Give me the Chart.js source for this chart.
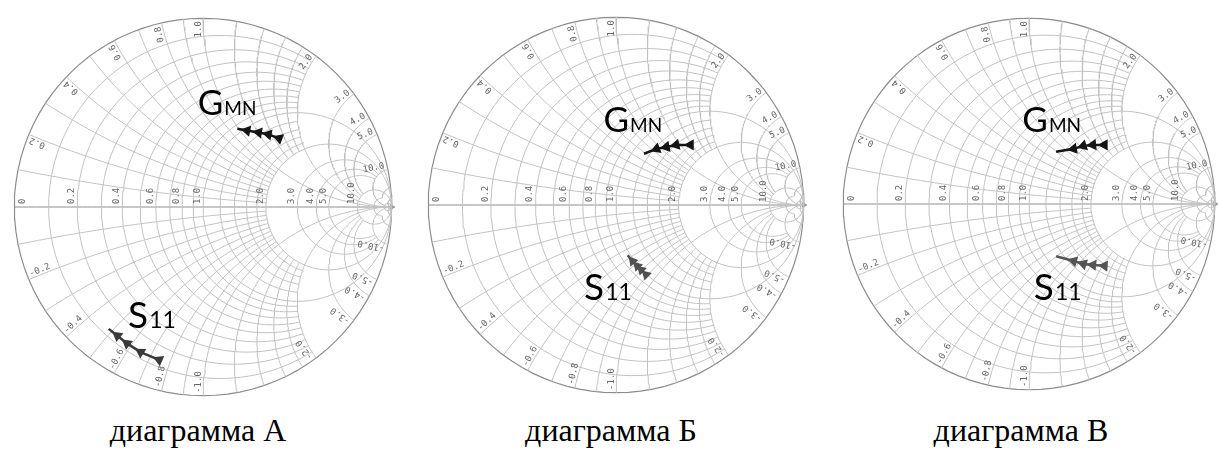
<!DOCTYPE html>
<html lang="ru">
<head>
<meta charset="UTF-8">
<title>Диаграммы Смита</title>
<script src="https://cdn.jsdelivr.net/npm/chart.js"></script>
<style>
  html, body { margin: 0; padding: 0; background: #fff; overflow: hidden; }
  body { width: 1219px; height: 452px; position: relative; }
  .chartBox { position: absolute; width: 400px; height: 400px; }
  .caption {
    position: absolute; top: 414px; width: 300px; margin-left: -150px;
    text-align: center; color: #000;
    font-family: "Liberation Serif", "Times New Roman", serif;
    font-size: 32px; line-height: 32px;
  }
</style>
</head>
<body>
<div class="chartBox" style="left:2.5px;top:7px"><canvas id="chartA" width="400" height="400"></canvas></div>
<div class="chartBox" style="left:416px;top:5px"><canvas id="chartB" width="400" height="400"></canvas></div>
<div class="chartBox" style="left:829px;top:4px"><canvas id="chartC" width="400" height="400"></canvas></div>
<div class="caption" style="left:198px">диаграмма А</div>
<div class="caption" style="left:611px">диаграмма Б</div>
<div class="caption" style="left:1021px">диаграмма В</div>

<script>
// Smith chart grid: resistance circles and reactance arcs, each with the reach it is drawn to
var resistanceValues = [0.1, 0.2, 0.3, 0.4, 0.5, 0.6, 0.7, 0.8, 0.9, 1.0, 1.2, 1.4, 1.6, 1.8, 2.0, 3.0, 4.0, 5.0, 10.0, 20.0, 50.0];
var resistanceReach  = [2, 2, 2, 2, 2, 2, 2, 2, 2, Infinity, 2, 2, 2, 2, Infinity, 10, 10, 10, Infinity, 20, Infinity];
var reactanceValues  = [0.1, 0.2, 0.3, 0.4, 0.5, 0.6, 0.7, 0.8, 0.9, 1.0, 1.2, 1.4, 1.6, 1.8, 2.0, 3.0, 4.0, 5.0, 10.0, 20.0, 50.0];
var reactanceReach   = [2, 2, 2, 2, 2, 2, 2, 2, 2, Infinity, 2, 2, 2, 2, Infinity, 10, 10, 10, Infinity, 20, Infinity];

// tick labels
var axisTicks = [0, 0.2, 0.4, 0.6, 0.8, 1.0, 2.0, 3.0, 4.0, 5.0, 10.0];
var rimTicks  = [0.2, 0.4, 0.6, 0.8, 1.0, 2.0, 3.0, 4.0, 5.0, 10.0,
                 -0.2, -0.4, -0.6, -0.8, -1.0, -2.0, -3.0, -4.0, -5.0, -10.0];

// traces, reflection coefficient (re, im)
var gmnA_re = [0.182, 0.233, 0.295, 0.346, 0.403];
var gmnA_im = [0.415, 0.405, 0.395, 0.385, 0.364];
var s11A_re = [-0.500, -0.454, -0.403, -0.331, -0.233];
var s11A_im = [-0.646, -0.682, -0.723, -0.769, -0.810];

var gmnB_re = [0.149, 0.216, 0.268, 0.320, 0.397];
var gmnB_im = [0.273, 0.299, 0.309, 0.320, 0.320];
var s11B_re = [0.062, 0.088, 0.113, 0.134, 0.160];
var s11B_im = [-0.268, -0.299, -0.325, -0.345, -0.371];

var gmnC_re = [0.146, 0.240, 0.292, 0.344, 0.406];
var gmnC_im = [0.281, 0.297, 0.313, 0.318, 0.318];
var s11C_re = [0.146, 0.240, 0.292, 0.344, 0.406];
var s11C_im = [-0.281, -0.307, -0.323, -0.328, -0.333];

function gamma(r, x) {
    var d = (r + 1) * (r + 1) + x * x;
    return [(r * r + x * x - 1) / d, 2 * x / d];
}

function resistanceArc(r, xMax) {
    var pts = [], k = r + 1, U = Math.atan(xMax / k), n = 96;
    for (var i = 0; i <= n; i++) {
        var g = gamma(r, k * Math.tan(-U + 2 * U * i / n));
        pts.push({x: g[0], y: g[1]});
    }
    return pts;
}

function reactanceArc(x, rMax) {
    var pts = [], k = Math.abs(x) + 1, U = Math.atan(rMax / k), n = 80;
    for (var i = 0; i <= n; i++) {
        var g = gamma(k * Math.tan(U * i / n), x);
        pts.push({x: g[0], y: g[1]});
    }
    return pts;
}

function gridLine(pts, color, width) {
    return {data: pts, showLine: true, pointRadius: 0, borderColor: color, borderWidth: width, tension: 0};
}

function trace(re, im, color, size) {
    var pts = re.map(function(v, i) { return {x: v, y: im[i]}; });
    // arrowheads point back along the trace
    var rot = pts.map(function(p, i) {
        var q = i > 0 ? pts[i - 1] : pts[1];
        var dx = i > 0 ? q.x - p.x : p.x - q.x, dy = i > 0 ? q.y - p.y : p.y - q.y;
        return Math.atan2(dx, dy) * 180 / Math.PI;
    });
    return {
        data: pts, showLine: true, borderColor: color, borderWidth: 2.5,
        backgroundColor: color, pointBorderColor: color, pointBackgroundColor: color,
        pointStyle: 'triangle', pointRotation: rot,
        pointRadius: pts.map(function(p, i) { return i === 0 ? 0 : size; }),
        tension: 0
    };
}

function fmt(v) { return v === 0 ? '0' : v.toFixed(1); }

var smithText = {
    id: 'smithText',
    afterDatasetsDraw: function(chart, args, opts) {
        var ctx = chart.ctx, xs = chart.scales.x, ys = chart.scales.y;
        function px(g) { return [xs.getPixelForValue(g[0]), ys.getPixelForValue(g[1])]; }
        ctx.save();
        ctx.font = '9px "DejaVu Sans Mono"';
        ctx.fillStyle = '#666';
        axisTicks.forEach(function(r) {
            var p = px(gamma(r, 0));
            ctx.save();
            if (r === 0) {
                ctx.translate(p[0] + 4, p[1] - 3);
                ctx.rotate(-Math.PI / 2);
                ctx.textBaseline = 'top';
            } else {
                ctx.translate(p[0] - 1, p[1] - 3);
                ctx.rotate(-Math.PI / 2);
                ctx.textBaseline = 'bottom';
            }
            ctx.textAlign = 'left';
            ctx.fillText(fmt(r), 0, 0);
            ctx.restore();
        });
        rimTicks.forEach(function(x) {
            var g = gamma(0, x), phi = Math.atan2(g[1], g[0]);
            var p = px([g[0] * 0.985, g[1] * 0.985]);
            ctx.save();
            ctx.translate(p[0], p[1]);
            ctx.textBaseline = 'bottom';
            if (x > 0) {
                ctx.rotate(-phi);
                ctx.textAlign = 'right';
            } else {
                ctx.rotate(Math.atan2(Math.sin(phi), -Math.cos(phi)));
                ctx.textAlign = 'left';
            }
            ctx.fillText(fmt(x), 0, 0);
            ctx.restore();
        });
        ctx.fillStyle = '#000';
        ctx.textBaseline = 'alphabetic';
        ctx.textAlign = 'left';
        opts.labels.forEach(function(l) {
            var p = px(l.at);
            ctx.font = l.big + 'px Lato';
            ctx.fillText(l.head, p[0], p[1]);
            var w = ctx.measureText(l.head).width;
            ctx.font = l.small + 'px Lato';
            ctx.fillText(l.tail, p[0] + w + 1, p[1]);
        });
        ctx.restore();
    }
};

function makeChart(id, span, traces, labels) {
    var sets = traces.slice();
    resistanceValues.forEach(function(r, i) {
        sets.push(gridLine(resistanceArc(r, resistanceReach[i]), '#c2c2c2', 1));
    });
    reactanceValues.forEach(function(x, i) {
        sets.push(gridLine(reactanceArc(x, reactanceReach[i]), '#c2c2c2', 1));
        sets.push(gridLine(reactanceArc(-x, reactanceReach[i]), '#c2c2c2', 1));
    });
    var axis = gridLine(reactanceArc(0, Infinity), '#8c8c8c', 1);
    axis.pointStyle = 'triangle';
    axis.pointRotation = 90;
    axis.pointBackgroundColor = '#8c8c8c';
    axis.pointBorderColor = '#8c8c8c';
    axis.pointRadius = axis.data.map(function(p, i) { return i === axis.data.length - 1 ? 3 : 0; });
    sets.push(axis);
    sets.push(gridLine(resistanceArc(0, Infinity), '#8c8c8c', 1.2));

    return new Chart(document.getElementById(id).getContext('2d'), {
        type: 'scatter',
        data: {datasets: sets},
        options: {
            responsive: false,
            animation: false,
            events: [],
            layout: {padding: 0},
            scales: {
                x: {type: 'linear', min: -span, max: span, display: false},
                y: {type: 'linear', min: -span, max: span, display: false}
            },
            plugins: {
                legend: {display: false},
                tooltip: {enabled: false},
                smithText: {labels: labels}
            }
        },
        plugins: [smithText]
    });
}

makeChart('chartA', 200 / 195,
    [trace(gmnA_re, gmnA_im, '#151515', 4), trace(s11A_re, s11A_im, '#3a3a3a', 4)],
    [{head: 'G', tail: 'MN', at: [-0.028, 0.487], big: 35, small: 19},
     {head: 'S', tail: '11', at: [-0.397, -0.641], big: 37, small: 23}]);

makeChart('chartB', 200 / 194,
    [trace(gmnB_re, gmnB_im, '#151515', 4), trace(s11B_re, s11B_im, '#505050', 3.5)],
    [{head: 'G', tail: 'MN', at: [-0.067, 0.387], big: 35, small: 19},
     {head: 'S', tail: '11', at: [-0.170, -0.505], big: 37, small: 23}]);

makeChart('chartC', 200 / 192,
    [trace(gmnC_re, gmnC_im, '#151515', 4), trace(s11C_re, s11C_im, '#555555', 4)],
    [{head: 'G', tail: 'MN', at: [-0.036, 0.385], big: 35, small: 19},
     {head: 'S', tail: '11', at: [0.026, -0.516], big: 37, small: 23}]);
</script>
</body>
</html>
